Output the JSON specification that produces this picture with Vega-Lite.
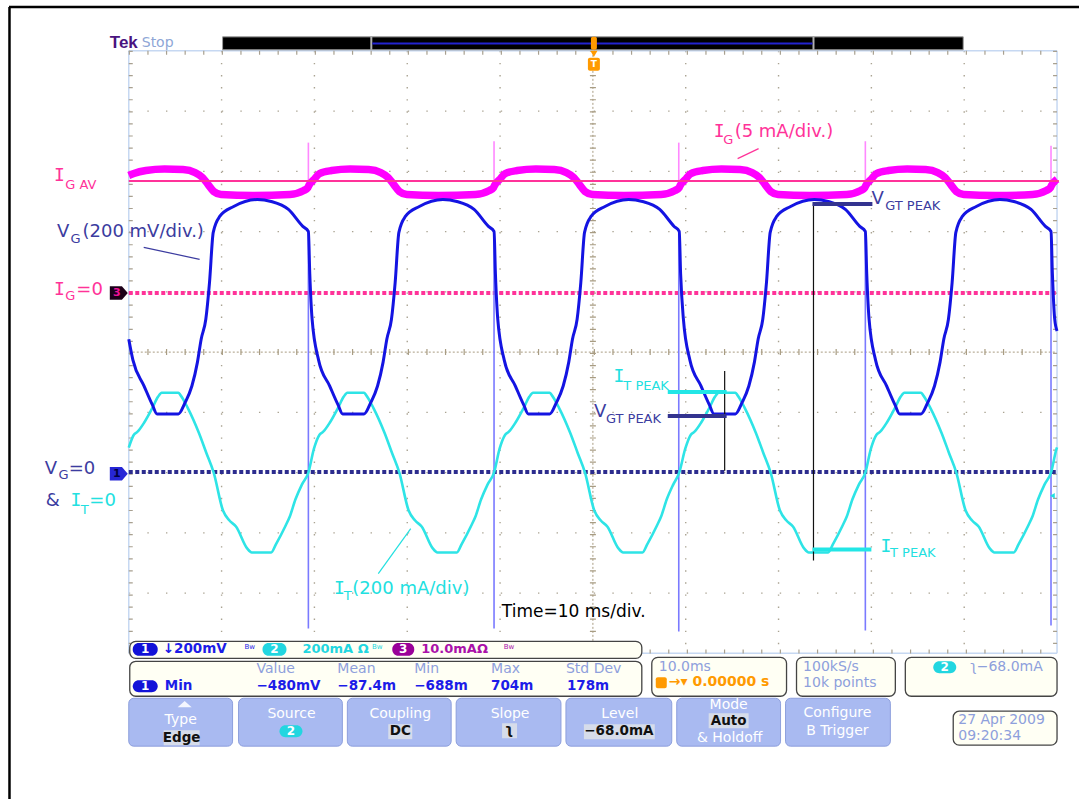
{
  "$schema": "https://vega.github.io/schema/vega-lite/v6.json",
  "width": 1081,
  "height": 801,
  "autosize": {"type": "fit", "contains": "padding"},
  "padding": 0,
  "background": "white",
  "config": {"view": {"stroke": null}, "text": {"font": "DejaVu Sans"}},
  "datasets": {
    "ig": [
      {"t":0,"d":2.93},{"t":0.55,"d":2.964},{"t":1.85,"d":3.013},{"t":3.85,"d":3.038},{"t":5.85,"d":3.03},{"t":7.15,"d":2.98},{"t":7.95,"d":2.897},{"t":8.55,"d":2.781},{"t":9.15,"d":2.666},{"t":9.95,"d":2.616},{"t":13.35,"d":2.599},{"t":17.35,"d":2.616},{"t":18.85,"d":2.682},{"t":19.3,"d":2.732},
      {"t":19.4,"d":2.765},{"t":19.95,"d":2.864},{"t":20.55,"d":2.964},{"t":21.85,"d":3.013},{"t":23.85,"d":3.038},{"t":25.85,"d":3.03},{"t":27.15,"d":2.98},{"t":27.95,"d":2.897},{"t":28.55,"d":2.781},{"t":29.15,"d":2.666},{"t":29.95,"d":2.616},{"t":33.35,"d":2.599},{"t":37.35,"d":2.616},{"t":38.85,"d":2.682},{"t":39.3,"d":2.732},
      {"t":39.4,"d":2.765},{"t":39.95,"d":2.864},{"t":40.55,"d":2.964},{"t":41.85,"d":3.013},{"t":43.85,"d":3.038},{"t":45.85,"d":3.03},{"t":47.15,"d":2.98},{"t":47.95,"d":2.897},{"t":48.55,"d":2.781},{"t":49.15,"d":2.666},{"t":49.95,"d":2.616},{"t":53.35,"d":2.599},{"t":57.35,"d":2.616},{"t":58.85,"d":2.682},{"t":59.3,"d":2.732},
      {"t":59.4,"d":2.765},{"t":59.95,"d":2.864},{"t":60.55,"d":2.964},{"t":61.85,"d":3.013},{"t":63.85,"d":3.038},{"t":65.85,"d":3.03},{"t":67.15,"d":2.98},{"t":67.95,"d":2.897},{"t":68.55,"d":2.781},{"t":69.15,"d":2.666},{"t":69.95,"d":2.616},{"t":73.35,"d":2.599},{"t":77.35,"d":2.616},{"t":78.85,"d":2.682},{"t":79.3,"d":2.732},
      {"t":79.4,"d":2.765},{"t":79.95,"d":2.864},{"t":80.55,"d":2.964},{"t":81.85,"d":3.013},{"t":83.85,"d":3.038},{"t":85.85,"d":3.03},{"t":87.15,"d":2.98},{"t":87.95,"d":2.897},{"t":88.55,"d":2.781},{"t":89.15,"d":2.666},{"t":89.95,"d":2.616},{"t":93.35,"d":2.599},{"t":97.35,"d":2.616},{"t":98.85,"d":2.682},{"t":99.3,"d":2.732},
      {"t":99.4,"d":2.765},{"t":99.95,"d":2.864},{"t":100,"d":2.87}
    ],
    "vg": [
      {"t":0,"d":0.215},{"t":0.45,"d":-0.132},{"t":1.65,"d":-0.563},{"t":2.55,"d":-0.877},{"t":3.05,"d":-1.026},{"t":5.35,"d":-1.026},{"t":6.05,"d":-0.844},{"t":6.8,"d":-0.563},{"t":7.4,"d":-0.166},{"t":7.8,"d":0.215},{"t":8.3,"d":0.546},{"t":8.7,"d":1.159},{"t":9.1,"d":1.987},{"t":9.8,"d":2.252},{"t":11.3,"d":2.417},{"t":13.85,"d":2.533},{"t":15.35,"d":2.5},{"t":17.2,"d":2.368},{"t":18.75,"d":2.086},{"t":19.35,"d":2.003},
      {"t":19.5,"d":1.3},{"t":19.75,"d":0.546},{"t":20.45,"d":-0.132},{"t":21.65,"d":-0.563},{"t":22.55,"d":-0.877},{"t":23.05,"d":-1.026},{"t":25.35,"d":-1.026},{"t":26.05,"d":-0.844},{"t":26.8,"d":-0.563},{"t":27.4,"d":-0.166},{"t":27.8,"d":0.215},{"t":28.3,"d":0.546},{"t":28.7,"d":1.159},{"t":29.1,"d":1.987},{"t":29.8,"d":2.252},{"t":31.3,"d":2.417},{"t":33.85,"d":2.533},{"t":35.35,"d":2.5},{"t":37.2,"d":2.368},{"t":38.75,"d":2.086},{"t":39.35,"d":2.003},
      {"t":39.5,"d":1.3},{"t":39.75,"d":0.546},{"t":40.45,"d":-0.132},{"t":41.65,"d":-0.563},{"t":42.55,"d":-0.877},{"t":43.05,"d":-1.026},{"t":45.35,"d":-1.026},{"t":46.05,"d":-0.844},{"t":46.8,"d":-0.563},{"t":47.4,"d":-0.166},{"t":47.8,"d":0.215},{"t":48.3,"d":0.546},{"t":48.7,"d":1.159},{"t":49.1,"d":1.987},{"t":49.8,"d":2.252},{"t":51.3,"d":2.417},{"t":53.85,"d":2.533},{"t":55.35,"d":2.5},{"t":57.2,"d":2.368},{"t":58.75,"d":2.086},{"t":59.3,"d":2.003},
      {"t":59.45,"d":1.3},{"t":59.75,"d":0.546},{"t":60.45,"d":-0.132},{"t":61.65,"d":-0.563},{"t":62.55,"d":-0.877},{"t":63.05,"d":-1.026},{"t":65.35,"d":-1.026},{"t":66.05,"d":-0.844},{"t":66.8,"d":-0.563},{"t":67.4,"d":-0.166},{"t":67.8,"d":0.215},{"t":68.3,"d":0.546},{"t":68.7,"d":1.159},{"t":69.1,"d":1.987},{"t":69.8,"d":2.252},{"t":71.3,"d":2.417},{"t":73.85,"d":2.533},{"t":75.35,"d":2.5},{"t":77.2,"d":2.368},{"t":78.75,"d":2.086},{"t":79.35,"d":2.003},
      {"t":79.5,"d":1.3},{"t":79.75,"d":0.546},{"t":80.45,"d":-0.132},{"t":81.65,"d":-0.563},{"t":82.55,"d":-0.877},{"t":83.05,"d":-1.026},{"t":85.35,"d":-1.026},{"t":86.05,"d":-0.844},{"t":86.8,"d":-0.563},{"t":87.4,"d":-0.166},{"t":87.8,"d":0.215},{"t":88.3,"d":0.546},{"t":88.7,"d":1.159},{"t":89.1,"d":1.987},{"t":89.8,"d":2.252},{"t":91.3,"d":2.417},{"t":93.85,"d":2.533},{"t":95.35,"d":2.5},{"t":97.2,"d":2.368},{"t":98.75,"d":2.086},{"t":99.35,"d":2.003},
      {"t":99.5,"d":1.3},{"t":99.75,"d":0.546},{"t":100,"d":0.35}
    ],
    "it": [
      {"t":0,"d":-1.585},{"t":0.55,"d":-1.371},{"t":0.95,"d":-1.321},{"t":1.65,"d":-1.172},{"t":2.55,"d":-0.924},{"t":3.15,"d":-0.742},{"t":3.55,"d":-0.675},{"t":5.35,"d":-0.675},{"t":5.55,"d":-0.709},{"t":6.35,"d":-0.924},{"t":7.55,"d":-1.338},{"t":8.35,"d":-1.669},{"t":9.15,"d":-2},{"t":10.15,"d":-2.629},{"t":10.85,"d":-2.795},{"t":11.55,"d":-2.894},{"t":12.75,"d":-3.258},{"t":13.25,"d":-3.325},{"t":15.35,"d":-3.325},{"t":15.85,"d":-3.192},{"t":16.85,"d":-2.894},{"t":17.35,"d":-2.728},{"t":17.95,"d":-2.447},{"t":18.65,"d":-2.199},{"t":19.35,"d":-2},
      {"t":19.95,"d":-1.603},{"t":20.55,"d":-1.371},{"t":20.95,"d":-1.321},{"t":21.65,"d":-1.172},{"t":22.55,"d":-0.924},{"t":23.15,"d":-0.742},{"t":23.55,"d":-0.675},{"t":25.35,"d":-0.675},{"t":25.55,"d":-0.709},{"t":26.35,"d":-0.924},{"t":27.55,"d":-1.338},{"t":28.35,"d":-1.669},{"t":29.15,"d":-2},{"t":30.15,"d":-2.629},{"t":30.85,"d":-2.795},{"t":31.55,"d":-2.894},{"t":32.75,"d":-3.258},{"t":33.25,"d":-3.325},{"t":35.35,"d":-3.325},{"t":35.85,"d":-3.192},{"t":36.85,"d":-2.894},{"t":37.35,"d":-2.728},{"t":37.95,"d":-2.447},{"t":38.65,"d":-2.199},{"t":39.35,"d":-2},
      {"t":39.95,"d":-1.603},{"t":40.55,"d":-1.371},{"t":40.95,"d":-1.321},{"t":41.65,"d":-1.172},{"t":42.55,"d":-0.924},{"t":43.15,"d":-0.742},{"t":43.55,"d":-0.675},{"t":45.35,"d":-0.675},{"t":45.55,"d":-0.709},{"t":46.35,"d":-0.924},{"t":47.55,"d":-1.338},{"t":48.35,"d":-1.669},{"t":49.15,"d":-2},{"t":50.15,"d":-2.629},{"t":50.85,"d":-2.795},{"t":51.55,"d":-2.894},{"t":52.75,"d":-3.258},{"t":53.25,"d":-3.325},{"t":55.35,"d":-3.325},{"t":55.85,"d":-3.192},{"t":56.85,"d":-2.894},{"t":57.35,"d":-2.728},{"t":57.95,"d":-2.447},{"t":58.65,"d":-2.199},{"t":59.3,"d":-2},
      {"t":59.95,"d":-1.603},{"t":60.55,"d":-1.371},{"t":60.95,"d":-1.321},{"t":61.65,"d":-1.172},{"t":62.55,"d":-0.924},{"t":63.15,"d":-0.742},{"t":63.55,"d":-0.675},{"t":65.35,"d":-0.675},{"t":65.55,"d":-0.709},{"t":66.35,"d":-0.924},{"t":67.55,"d":-1.338},{"t":68.35,"d":-1.669},{"t":69.15,"d":-2},{"t":70.15,"d":-2.629},{"t":70.85,"d":-2.795},{"t":71.55,"d":-2.894},{"t":72.75,"d":-3.258},{"t":73.25,"d":-3.325},{"t":75.35,"d":-3.325},{"t":75.85,"d":-3.192},{"t":76.85,"d":-2.894},{"t":77.35,"d":-2.728},{"t":77.95,"d":-2.447},{"t":78.65,"d":-2.199},{"t":79.35,"d":-2},
      {"t":79.95,"d":-1.603},{"t":80.55,"d":-1.371},{"t":80.95,"d":-1.321},{"t":81.65,"d":-1.172},{"t":82.55,"d":-0.924},{"t":83.15,"d":-0.742},{"t":83.55,"d":-0.675},{"t":85.35,"d":-0.675},{"t":85.55,"d":-0.709},{"t":86.35,"d":-0.924},{"t":87.55,"d":-1.338},{"t":88.35,"d":-1.669},{"t":89.15,"d":-2},{"t":90.15,"d":-2.629},{"t":90.85,"d":-2.795},{"t":91.55,"d":-2.894},{"t":92.75,"d":-3.258},{"t":93.25,"d":-3.325},{"t":95.35,"d":-3.325},{"t":95.85,"d":-3.192},{"t":96.85,"d":-2.894},{"t":97.35,"d":-2.728},{"t":97.95,"d":-2.447},{"t":98.65,"d":-2.199},{"t":99.35,"d":-2},
      {"t":99.95,"d":-1.603},{"t":100,"d":-1.58}
    ],
    "rules": [
      {"k":"gh","t":0,"t2":100,"d":4,"d2":4},{"k":"gh","t":0,"t2":100,"d":3,"d2":3},{"k":"gh","t":0,"t2":100,"d":2,"d2":2},{"k":"gh","t":0,"t2":100,"d":1,"d2":1},
      {"k":"gh","t":0,"t2":100,"d":-1,"d2":-1},{"k":"gh","t":0,"t2":100,"d":-2,"d2":-2},{"k":"gh","t":0,"t2":100,"d":-3,"d2":-3},{"k":"gh","t":0,"t2":100,"d":-4,"d2":-4},
      {"k":"gv","t":10,"t2":10,"d":5,"d2":-5},{"k":"gv","t":20,"t2":20,"d":5,"d2":-5},{"k":"gv","t":30,"t2":30,"d":5,"d2":-5},{"k":"gv","t":40,"t2":40,"d":5,"d2":-5},
      {"k":"gv","t":60,"t2":60,"d":5,"d2":-5},{"k":"gv","t":70,"t2":70,"d":5,"d2":-5},{"k":"gv","t":80,"t2":80,"d":5,"d2":-5},{"k":"gv","t":90,"t2":90,"d":5,"d2":-5},
      {"k":"ch","t":0,"t2":100,"d":0,"d2":0},
      {"k":"cv","t":50,"t2":50,"d":5,"d2":-5},
      {"k":"edge","t":0,"t2":100,"d":5,"d2":5},{"k":"edge","t":0,"t2":100,"d":-5,"d2":-5},{"k":"edge","t":0,"t2":0,"d":5,"d2":-5},{"k":"edge","t":100,"t2":100,"d":5,"d2":-5},
      {"k":"eth","t":0,"t2":100,"d":4.967,"d2":4.967},{"k":"eth","t":0,"t2":100,"d":-4.967,"d2":-4.967},
      {"k":"etv","t":0.215,"t2":0.215,"d":5,"d2":-5},{"k":"etv","t":99.785,"t2":99.785,"d":5,"d2":-5},
      {"k":"frame","t":-12.849,"t2":-12.849,"d":5.728,"d2":-7.417},{"k":"frame","t":-12.903,"t2":102.366,"d":5.728,"d2":5.728},
      {"k":"igav","t":0,"t2":100.2,"d":2.839,"d2":2.839},
      {"k":"ig0","t":0,"t2":100,"d":0.98,"d2":0.98},
      {"k":"vg0","t":0,"t2":100,"d":-1.99,"d2":-1.99},
      {"k":"svg","t":19.35,"t2":19.35,"d":2.0,"d2":-4.586},{"k":"svg","t":39.35,"t2":39.35,"d":2.0,"d2":-4.586},{"k":"svg","t":59.25,"t2":59.25,"d":2.0,"d2":-4.636},{"k":"svg","t":79.35,"t2":79.35,"d":2.0,"d2":-4.62},{"k":"svg","t":99.35,"t2":99.35,"d":2.0,"d2":-4.536},
      {"k":"sig","t":19.35,"t2":19.35,"d":2.8,"d2":3.477},{"k":"sig","t":39.35,"t2":39.35,"d":2.8,"d2":3.5},{"k":"sig","t":59.25,"t2":59.25,"d":2.8,"d2":3.477},{"k":"sig","t":79.35,"t2":79.35,"d":2.8,"d2":3.5},{"k":"sig","t":99.35,"t2":99.35,"d":2.8,"d2":3.427},
      {"k":"pvg","t":1.613,"t2":7.634,"d":1.738,"d2":1.54},
      {"k":"pig","t":65.591,"t2":67.849,"d":3.212,"d2":3.377},
      {"k":"pit","t":26.882,"t2":30.376,"d":-3.675,"d2":-2.93},
      {"k":"bvg","t":73.656,"t2":80.108,"d":2.459,"d2":2.459},{"k":"bvg","t":58.065,"t2":64.409,"d":-1.06,"d2":-1.06},
      {"k":"bit","t":58.065,"t2":64.409,"d":-0.662,"d2":-0.662},{"k":"bit","t":73.656,"t2":80.0,"d":-3.278,"d2":-3.278},
      {"k":"cur","t":73.763,"t2":73.763,"d":2.467,"d2":-3.46},{"k":"cur","t":64.194,"t2":64.194,"d":-0.315,"d2":-1.97},
      {"k":"bardiv","t":26.129,"t2":26.129,"d":5.232,"d2":5.017},{"k":"bardiv","t":73.763,"t2":73.763,"d":5.232,"d2":5.017},
      {"k":"barblue","t":26.237,"t2":73.656,"d":5.124,"d2":5.124}
    ],
    "rects": [
      {"k":"bar","t":10.108,"t2":89.892,"d":5.232,"d2":5.017},
      {"k":"orange","t":49.785,"t2":50.43,"d":5.232,"d2":5.017},
      {"k":"orange","t":49.462,"t2":50.753,"d":4.884,"d2":4.669},
      {"k":"box","t":0.108,"t2":55.269,"d":-4.801,"d2":-5.083},
      {"k":"box","t":0.108,"t2":55.269,"d":-5.132,"d2":-5.712},
      {"k":"box","t":56.344,"t2":70.86,"d":-5.066,"d2":-5.712},
      {"k":"box","t":71.935,"t2":82.581,"d":-5.066,"d2":-5.712},
      {"k":"box","t":83.656,"t2":100,"d":-5.066,"d2":-5.712},
      {"k":"box","t":88.817,"t2":100,"d":-5.96,"d2":-6.523},
      {"k":"btn","t":0,"t2":11.183,"d":-5.745,"d2":-6.54},
      {"k":"btn","t":11.828,"t2":23.011,"d":-5.745,"d2":-6.54},
      {"k":"btn","t":23.548,"t2":34.731,"d":-5.745,"d2":-6.54},
      {"k":"btn","t":35.269,"t2":46.559,"d":-5.745,"d2":-6.54},
      {"k":"btn","t":47.097,"t2":58.495,"d":-5.745,"d2":-6.54},
      {"k":"btn","t":59.032,"t2":70.215,"d":-5.745,"d2":-6.54},
      {"k":"btn","t":70.753,"t2":82.043,"d":-5.745,"d2":-6.54},
      {"k":"hl","t":3.763,"t2":7.634,"d":-6.275,"d2":-6.523},
      {"k":"hl","t":27.957,"t2":30.538,"d":-6.175,"d2":-6.424},
      {"k":"hl","t":40.215,"t2":41.828,"d":-6.159,"d2":-6.407},
      {"k":"hl","t":49.032,"t2":56.667,"d":-6.175,"d2":-6.424},
      {"k":"hl","t":62.473,"t2":66.774,"d":-5.993,"d2":-6.242},
      {"k":"b1","t":0.43,"t2":3.118,"d":-4.826,"d2":-5.041},
      {"k":"b1","t":0.43,"t2":3.118,"d":-5.447,"d2":-5.646},
      {"k":"b2","t":14.409,"t2":16.989,"d":-4.826,"d2":-5.041},
      {"k":"b3","t":28.387,"t2":30.753,"d":-4.826,"d2":-5.041},
      {"k":"b2","t":16.237,"t2":18.71,"d":-6.192,"d2":-6.391},
      {"k":"b2","t":86.667,"t2":89.14,"d":-5.132,"d2":-5.331},
      {"k":"orange","t":56.774,"t2":57.957,"d":-5.397,"d2":-5.579}
    ],
    "pts": [
      {"k":"tag3","t":-1.075,"d":0.98},
      {"k":"tag1","t":-1.075,"d":-2.02},
      {"k":"tri","t":50.108,"d":4.95},
      {"k":"typetri","t":6.022,"d":-5.844},
      {"k":"arr","t":99.5,"d":-2.384}
    ],
    "txt": [
      {"k":"pinkI","t":-7.473,"d":2.922,"txt":"I"},
      {"k":"pinkS","t":-6.839,"d":2.781,"txt":"G AV"},
      {"k":"pinkI","t":-7.473,"d":1.035,"txt":"I"},
      {"k":"pinkS","t":-6.839,"d":0.927,"txt":"G"},
      {"k":"pinkM","t":-5.645,"d":1.035,"txt":"=0"},
      {"k":"pinkI","t":63.613,"d":3.651,"txt":"I"},
      {"k":"pinkS","t":64.043,"d":3.526,"txt":"G"},
      {"k":"pinkM","t":65.269,"d":3.651,"txt":"(5 mA/div.)"},
      {"k":"navyM","t":-7.742,"d":1.987,"txt":"V"},
      {"k":"navyS","t":-6.28,"d":1.871,"txt":"G"},
      {"k":"navyM","t":-4.989,"d":1.987,"txt":"(200 mV/div.)"},
      {"k":"navyM","t":-9.054,"d":-1.937,"txt":"V"},
      {"k":"navyS","t":-7.581,"d":-2.036,"txt":"G"},
      {"k":"navyM","t":-6.462,"d":-1.937,"txt":"=0"},
      {"k":"navyM","t":-8.946,"d":-2.475,"txt":"&"},
      {"k":"navyM","t":80.0,"d":2.533,"txt":"V"},
      {"k":"navyS","t":81.484,"d":2.417,"txt":"GT PEAK"},
      {"k":"navyM","t":50.108,"d":-0.993,"txt":"V"},
      {"k":"navyS","t":51.398,"d":-1.109,"txt":"GT PEAK"},
      {"k":"cyanI","t":-5.699,"d":-2.475,"txt":"I"},
      {"k":"cyanS","t":-5.161,"d":-2.616,"txt":"T"},
      {"k":"cyanM","t":-4.247,"d":-2.475,"txt":"=0"},
      {"k":"cyanI","t":52.796,"d":-0.414,"txt":"I"},
      {"k":"cyanS","t":53.28,"d":-0.563,"txt":"T PEAK"},
      {"k":"cyanI","t":81.559,"d":-3.228,"txt":"I"},
      {"k":"cyanS","t":82.011,"d":-3.328,"txt":"T PEAK"},
      {"k":"cyanI","t":22.688,"d":-3.924,"txt":"I"},
      {"k":"cyanS","t":23.172,"d":-4.048,"txt":"T"},
      {"k":"cyanM","t":24.086,"d":-3.924,"txt":"(200 mA/div)"},
      {"k":"time","t":40.194,"d":-4.321,"txt":"Time=10 ms/div."},
      {"k":"tag3","t":-1.29,"d":0.98,"txt":"3"},
      {"k":"tag1","t":-1.29,"d":-2.02,"txt":"1"},
      {"k":"tek","t":-2.043,"d":5.132,"txt":"Tek"},
      {"k":"stop","t":1.398,"d":5.132,"txt":"Stop"},
      {"k":"trig","t":50.108,"d":4.776,"txt":"T"},
      {"k":"badge","t":1.774,"d":-4.934,"txt":"1"},
      {"k":"blueB","t":3.656,"d":-4.934,"txt":"↓200mV"},
      {"k":"bwB","t":12.473,"d":-4.901,"txt":"Bw"},
      {"k":"badge","t":15.699,"d":-4.934,"txt":"2"},
      {"k":"cyanB","t":18.71,"d":-4.934,"txt":"200mA Ω"},
      {"k":"bwC","t":26.2,"d":-4.901,"txt":"Bw"},
      {"k":"badge","t":29.57,"d":-4.934,"txt":"3"},
      {"k":"purpleB","t":31.505,"d":-4.934,"txt":"10.0mAΩ"},
      {"k":"bwP","t":40.4,"d":-4.901,"txt":"Bw"},
      {"k":"hdr","t":13.763,"d":-5.265,"txt":"Value"},
      {"k":"hdr","t":22.473,"d":-5.265,"txt":"Mean"},
      {"k":"hdr","t":30.753,"d":-5.265,"txt":"Min"},
      {"k":"hdr","t":39.032,"d":-5.265,"txt":"Max"},
      {"k":"hdr","t":47.097,"d":-5.265,"txt":"Std Dev"},
      {"k":"badge","t":1.774,"d":-5.546,"txt":"1"},
      {"k":"blueB","t":3.871,"d":-5.546,"txt":"Min"},
      {"k":"blueB","t":13.763,"d":-5.546,"txt":"−480mV"},
      {"k":"blueB","t":22.473,"d":-5.546,"txt":"−87.4m"},
      {"k":"blueB","t":30.753,"d":-5.546,"txt":"−688m"},
      {"k":"blueB","t":39.032,"d":-5.546,"txt":"704m"},
      {"k":"blueB","t":47.204,"d":-5.546,"txt":"178m"},
      {"k":"hdr","t":57.097,"d":-5.232,"txt":"10.0ms"},
      {"k":"orangeB","t":58.172,"d":-5.48,"txt":"→▾ 0.00000 s"},
      {"k":"hdr","t":72.645,"d":-5.232,"txt":"100kS/s"},
      {"k":"hdr","t":72.645,"d":-5.497,"txt":"10k points"},
      {"k":"badge","t":87.903,"d":-5.232,"txt":"2"},
      {"k":"hdr","t":90.645,"d":-5.232,"txt":"ʅ−68.0mA"},
      {"k":"hdr","t":89.355,"d":-6.109,"txt":"27 Apr 2009"},
      {"k":"hdr","t":89.355,"d":-6.374,"txt":"09:20:34"},
      {"k":"btnW","t":5.591,"d":-6.109,"txt":"Type"},
      {"k":"btnK","t":5.699,"d":-6.407,"txt":"Edge"},
      {"k":"btnW","t":17.527,"d":-6.01,"txt":"Source"},
      {"k":"badge","t":17.473,"d":-6.291,"txt":"2"},
      {"k":"btnW","t":29.247,"d":-6.01,"txt":"Coupling"},
      {"k":"btnK","t":29.247,"d":-6.291,"txt":"DC"},
      {"k":"btnW","t":41.075,"d":-6.01,"txt":"Slope"},
      {"k":"btnK","t":40.968,"d":-6.275,"txt":"ʅ"},
      {"k":"btnW","t":52.903,"d":-6.01,"txt":"Level"},
      {"k":"btnK","t":52.796,"d":-6.291,"txt":"−68.0mA"},
      {"k":"btnW","t":64.624,"d":-5.861,"txt":"Mode"},
      {"k":"btnK","t":64.624,"d":-6.118,"txt":"Auto"},
      {"k":"btnW","t":64.731,"d":-6.407,"txt":"& Holdoff"},
      {"k":"btnW","t":76.344,"d":-5.993,"txt":"Configure"},
      {"k":"btnW","t":76.344,"d":-6.291,"txt":"B Trigger"}
    ]
  },
  "encoding": {
    "x": {"field": "t", "type": "quantitative", "scale": {"domain": [-13.871, 102.366], "nice": false, "zero": false}, "axis": null},
    "y": {"field": "d", "type": "quantitative", "scale": {"domain": [-7.417, 5.844], "nice": false, "zero": false}, "axis": null}
  },
  "layer": [
    {"data": {"name": "rules"}, "transform": [{"filter": "datum.k == 'gh'"}], "mark": {"type": "rule", "color": "#aaa392", "strokeWidth": 1.4, "strokeDash": [1.4, 17.2]}, "encoding": {"x2": {"field": "t2"}, "y2": {"field": "d2"}}},
    {"data": {"name": "rules"}, "transform": [{"filter": "datum.k == 'gv'"}], "mark": {"type": "rule", "color": "#aaa392", "strokeWidth": 1.4, "strokeDash": [1.4, 10.68]}, "encoding": {"x2": {"field": "t2"}, "y2": {"field": "d2"}}},
    {"data": {"name": "rules"}, "transform": [{"filter": "datum.k == 'ch' || datum.k == 'cv'"}], "mark": {"type": "rule", "color": "#a89c82", "strokeWidth": 1, "strokeDash": [2, 2]}, "encoding": {"x2": {"field": "t2"}, "y2": {"field": "d2"}}},
    {"data": {"name": "rules"}, "transform": [{"filter": "datum.k == 'ch'"}], "mark": {"type": "rule", "color": "#a89c82", "strokeWidth": 6, "strokeDash": [1.2, 17.4]}, "encoding": {"x2": {"field": "t2"}, "y2": {"field": "d2"}}},
    {"data": {"name": "rules"}, "transform": [{"filter": "datum.k == 'cv'"}], "mark": {"type": "rule", "color": "#a89c82", "strokeWidth": 6, "strokeDash": [1.2, 10.88]}, "encoding": {"x2": {"field": "t2"}, "y2": {"field": "d2"}}},
    {"data": {"name": "rules"}, "transform": [{"filter": "datum.k == 'edge'"}], "mark": {"type": "rule", "color": "#c6d8f2", "strokeWidth": 1.5}, "encoding": {"x2": {"field": "t2"}, "y2": {"field": "d2"}}},
    {"data": {"name": "rules"}, "transform": [{"filter": "datum.k == 'eth'"}], "mark": {"type": "rule", "color": "#a8a090", "strokeWidth": 4, "strokeDash": [1.2, 17.4]}, "encoding": {"x2": {"field": "t2"}, "y2": {"field": "d2"}}},
    {"data": {"name": "rules"}, "transform": [{"filter": "datum.k == 'etv'"}], "mark": {"type": "rule", "color": "#a8a090", "strokeWidth": 4, "strokeDash": [1.2, 10.88]}, "encoding": {"x2": {"field": "t2"}, "y2": {"field": "d2"}}},
    {"data": {"name": "rules"}, "transform": [{"filter": "datum.k == 'frame'"}], "mark": {"type": "rule", "color": "#000000", "strokeWidth": 2.5}, "encoding": {"x2": {"field": "t2"}, "y2": {"field": "d2"}}},
    {"data": {"name": "rules"}, "transform": [{"filter": "datum.k == 'ig0'"}], "mark": {"type": "rule", "color": "#ff3399", "strokeWidth": 4, "strokeDash": [4, 2.5]}, "encoding": {"x2": {"field": "t2"}, "y2": {"field": "d2"}}},
    {"data": {"name": "rules"}, "transform": [{"filter": "datum.k == 'vg0'"}], "mark": {"type": "rule", "color": "#2c2c8e", "strokeWidth": 4, "strokeDash": [4, 2.5]}, "encoding": {"x2": {"field": "t2"}, "y2": {"field": "d2"}}},
    {"data": {"name": "rules"}, "transform": [{"filter": "datum.k == 'svg'"}], "mark": {"type": "rule", "color": "#7a7aff", "strokeWidth": 1.6}, "encoding": {"x2": {"field": "t2"}, "y2": {"field": "d2"}}},
    {"data": {"name": "rules"}, "transform": [{"filter": "datum.k == 'sig'"}], "mark": {"type": "rule", "color": "#ff88ff", "strokeWidth": 1.6}, "encoding": {"x2": {"field": "t2"}, "y2": {"field": "d2"}}},
    {"data": {"name": "ig"}, "mark": {"type": "line", "color": "#ff00ff", "strokeWidth": 7.5, "strokeCap": "butt", "interpolate": "monotone"}, "encoding": {}},
    {"data": {"name": "it"}, "mark": {"type": "line", "color": "#2ee4e6", "strokeWidth": 2.6, "interpolate": "monotone"}, "encoding": {}},
    {"data": {"name": "vg"}, "mark": {"type": "line", "color": "#1414e2", "strokeWidth": 3, "interpolate": "monotone"}, "encoding": {}},
    {"data": {"name": "rules"}, "transform": [{"filter": "datum.k == 'igav'"}], "mark": {"type": "rule", "color": "#ff3399", "strokeWidth": 2}, "encoding": {"x2": {"field": "t2"}, "y2": {"field": "d2"}}},
    {"data": {"name": "rules"}, "transform": [{"filter": "datum.k == 'cur'"}], "mark": {"type": "rule", "color": "#111111", "strokeWidth": 1.2}, "encoding": {"x2": {"field": "t2"}, "y2": {"field": "d2"}}},
    {"data": {"name": "rules"}, "transform": [{"filter": "datum.k == 'bvg'"}], "mark": {"type": "rule", "color": "#33338f", "strokeWidth": 4}, "encoding": {"x2": {"field": "t2"}, "y2": {"field": "d2"}}},
    {"data": {"name": "rules"}, "transform": [{"filter": "datum.k == 'bit'"}], "mark": {"type": "rule", "color": "#22e6e6", "strokeWidth": 4}, "encoding": {"x2": {"field": "t2"}, "y2": {"field": "d2"}}},
    {"data": {"name": "rules"}, "transform": [{"filter": "datum.k == 'pvg'"}], "mark": {"type": "rule", "color": "#3c3ca0", "strokeWidth": 1.2}, "encoding": {"x2": {"field": "t2"}, "y2": {"field": "d2"}}},
    {"data": {"name": "rules"}, "transform": [{"filter": "datum.k == 'pig'"}], "mark": {"type": "rule", "color": "#ff3399", "strokeWidth": 1.2}, "encoding": {"x2": {"field": "t2"}, "y2": {"field": "d2"}}},
    {"data": {"name": "rules"}, "transform": [{"filter": "datum.k == 'pit'"}], "mark": {"type": "rule", "color": "#22e0e0", "strokeWidth": 1.2}, "encoding": {"x2": {"field": "t2"}, "y2": {"field": "d2"}}},
    {"data": {"name": "rects"}, "transform": [{"filter": "datum.k == 'bar'"}], "mark": {"type": "rect", "color": "#000000", "stroke": "#9a9a9a", "strokeWidth": 1}, "encoding": {"x2": {"field": "t2"}, "y2": {"field": "d2"}}},
    {"data": {"name": "rules"}, "transform": [{"filter": "datum.k == 'bardiv'"}], "mark": {"type": "rule", "color": "#b0b0b0", "strokeWidth": 2}, "encoding": {"x2": {"field": "t2"}, "y2": {"field": "d2"}}},
    {"data": {"name": "rules"}, "transform": [{"filter": "datum.k == 'barblue'"}], "mark": {"type": "rule", "color": "#2323d0", "strokeWidth": 2}, "encoding": {"x2": {"field": "t2"}, "y2": {"field": "d2"}}},
    {"data": {"name": "rects"}, "transform": [{"filter": "datum.k == 'box'"}], "mark": {"type": "rect", "fill": "#fffff4", "stroke": "#444444", "strokeWidth": 1.3, "cornerRadius": 6}, "encoding": {"x2": {"field": "t2"}, "y2": {"field": "d2"}}},
    {"data": {"name": "rects"}, "transform": [{"filter": "datum.k == 'btn'"}], "mark": {"type": "rect", "fill": "#a9baf1", "stroke": "#8d9fdc", "strokeWidth": 1, "cornerRadius": 5}, "encoding": {"x2": {"field": "t2"}, "y2": {"field": "d2"}}},
    {"data": {"name": "rects"}, "transform": [{"filter": "datum.k == 'hl'"}], "mark": {"type": "rect", "fill": "#d6dcea"}, "encoding": {"x2": {"field": "t2"}, "y2": {"field": "d2"}}},
    {"data": {"name": "rects"}, "transform": [{"filter": "datum.k == 'b1'"}], "mark": {"type": "rect", "fill": "#1212d8", "cornerRadius": 6}, "encoding": {"x2": {"field": "t2"}, "y2": {"field": "d2"}}},
    {"data": {"name": "rects"}, "transform": [{"filter": "datum.k == 'b2'"}], "mark": {"type": "rect", "fill": "#22d6e0", "cornerRadius": 6}, "encoding": {"x2": {"field": "t2"}, "y2": {"field": "d2"}}},
    {"data": {"name": "rects"}, "transform": [{"filter": "datum.k == 'b3'"}], "mark": {"type": "rect", "fill": "#990099", "cornerRadius": 6}, "encoding": {"x2": {"field": "t2"}, "y2": {"field": "d2"}}},
    {"data": {"name": "rects"}, "transform": [{"filter": "datum.k == 'orange'"}], "mark": {"type": "rect", "fill": "#ff9a00", "cornerRadius": 2}, "encoding": {"x2": {"field": "t2"}, "y2": {"field": "d2"}}},
    {"data": {"name": "pts"}, "transform": [{"filter": "datum.k == 'tag3'"}], "mark": {"type": "point", "shape": "M -1 -0.75 L 0.35 -0.75 L 1 0 L 0.35 0.75 L -1 0.75 Z", "filled": true, "size": 324, "color": "#1c0018", "opacity": 1}},
    {"data": {"name": "pts"}, "transform": [{"filter": "datum.k == 'tag1'"}], "mark": {"type": "point", "shape": "M -1 -0.75 L 0.35 -0.75 L 1 0 L 0.35 0.75 L -1 0.75 Z", "filled": true, "size": 324, "color": "#2626d6", "opacity": 1}},
    {"data": {"name": "pts"}, "transform": [{"filter": "datum.k == 'tri'"}], "mark": {"type": "point", "shape": "triangle-down", "filled": true, "size": 50, "color": "#ff9a00", "opacity": 1}},
    {"data": {"name": "pts"}, "transform": [{"filter": "datum.k == 'typetri'"}], "mark": {"type": "point", "shape": "M -1 0.45 L 1 0.45 L 0 -0.45 Z", "filled": true, "size": 196, "color": "#f4f6ff", "opacity": 1}},
    {"data": {"name": "pts"}, "transform": [{"filter": "datum.k == 'arr'"}], "mark": {"type": "point", "shape": "triangle-left", "filled": true, "size": 30, "color": "#22e0e0", "opacity": 1}},
    {"data": {"name": "txt"}, "transform": [{"filter": "datum.k == 'pinkI'"}], "mark": {"type": "text", "align": "center", "baseline": "middle", "fontSize": 18, "font": "DejaVu Sans Mono", "color": "#ff3399"}, "encoding": {"text": {"field": "txt"}}},
    {"data": {"name": "txt"}, "transform": [{"filter": "datum.k == 'cyanI'"}], "mark": {"type": "text", "align": "center", "baseline": "middle", "fontSize": 18, "font": "DejaVu Sans Mono", "color": "#22e0e0"}, "encoding": {"text": {"field": "txt"}}},
    {"data": {"name": "txt"}, "transform": [{"filter": "datum.k == 'pinkM'"}], "mark": {"type": "text", "align": "left", "baseline": "middle", "fontSize": 18, "color": "#ff3399"}, "encoding": {"text": {"field": "txt"}}},
    {"data": {"name": "txt"}, "transform": [{"filter": "datum.k == 'pinkS'"}], "mark": {"type": "text", "align": "left", "baseline": "middle", "fontSize": 13, "color": "#ff3399"}, "encoding": {"text": {"field": "txt"}}},
    {"data": {"name": "txt"}, "transform": [{"filter": "datum.k == 'navyM'"}], "mark": {"type": "text", "align": "left", "baseline": "middle", "fontSize": 18, "color": "#3c3ca0"}, "encoding": {"text": {"field": "txt"}}},
    {"data": {"name": "txt"}, "transform": [{"filter": "datum.k == 'navyS'"}], "mark": {"type": "text", "align": "left", "baseline": "middle", "fontSize": 13, "color": "#3c3ca0"}, "encoding": {"text": {"field": "txt"}}},
    {"data": {"name": "txt"}, "transform": [{"filter": "datum.k == 'cyanM'"}], "mark": {"type": "text", "align": "left", "baseline": "middle", "fontSize": 18, "color": "#22e0e0"}, "encoding": {"text": {"field": "txt"}}},
    {"data": {"name": "txt"}, "transform": [{"filter": "datum.k == 'cyanS'"}], "mark": {"type": "text", "align": "left", "baseline": "middle", "fontSize": 13, "color": "#22e0e0"}, "encoding": {"text": {"field": "txt"}}},
    {"data": {"name": "txt"}, "transform": [{"filter": "datum.k == 'time'"}], "mark": {"type": "text", "align": "left", "baseline": "middle", "fontSize": 17, "color": "#000000"}, "encoding": {"text": {"field": "txt"}}},
    {"data": {"name": "txt"}, "transform": [{"filter": "datum.k == 'tag3'"}], "mark": {"type": "text", "align": "center", "baseline": "middle", "fontSize": 11, "fontWeight": "bold", "color": "#ee1199"}, "encoding": {"text": {"field": "txt"}}},
    {"data": {"name": "txt"}, "transform": [{"filter": "datum.k == 'tag1'"}], "mark": {"type": "text", "align": "center", "baseline": "middle", "fontSize": 11, "fontWeight": "bold", "color": "#000044"}, "encoding": {"text": {"field": "txt"}}},
    {"data": {"name": "txt"}, "transform": [{"filter": "datum.k == 'tek'"}], "mark": {"type": "text", "align": "left", "baseline": "middle", "fontSize": 17, "fontWeight": "bold", "font": "Liberation Sans", "color": "#4a1480"}, "encoding": {"text": {"field": "txt"}}},
    {"data": {"name": "txt"}, "transform": [{"filter": "datum.k == 'stop'"}], "mark": {"type": "text", "align": "left", "baseline": "middle", "fontSize": 14, "color": "#8ea6d6"}, "encoding": {"text": {"field": "txt"}}},
    {"data": {"name": "txt"}, "transform": [{"filter": "datum.k == 'trig'"}], "mark": {"type": "text", "align": "center", "baseline": "middle", "fontSize": 9, "fontWeight": "bold", "color": "#ffffff"}, "encoding": {"text": {"field": "txt"}}},
    {"data": {"name": "txt"}, "transform": [{"filter": "datum.k == 'badge'"}], "mark": {"type": "text", "align": "center", "baseline": "middle", "fontSize": 12, "fontWeight": "bold", "color": "#ffffff"}, "encoding": {"text": {"field": "txt"}}},
    {"data": {"name": "txt"}, "transform": [{"filter": "datum.k == 'blueB'"}], "mark": {"type": "text", "align": "left", "baseline": "middle", "fontSize": 13.5, "fontWeight": "bold", "color": "#1c1ce8"}, "encoding": {"text": {"field": "txt"}}},
    {"data": {"name": "txt"}, "transform": [{"filter": "datum.k == 'cyanB'"}], "mark": {"type": "text", "align": "left", "baseline": "middle", "fontSize": 13, "fontWeight": "bold", "color": "#22d6e0"}, "encoding": {"text": {"field": "txt"}}},
    {"data": {"name": "txt"}, "transform": [{"filter": "datum.k == 'purpleB'"}], "mark": {"type": "text", "align": "left", "baseline": "middle", "fontSize": 13, "fontWeight": "bold", "color": "#aa11aa"}, "encoding": {"text": {"field": "txt"}}},
    {"data": {"name": "txt"}, "transform": [{"filter": "datum.k == 'bwB'"}], "mark": {"type": "text", "align": "left", "baseline": "middle", "fontSize": 7, "color": "#1c1ce8"}, "encoding": {"text": {"field": "txt"}}},
    {"data": {"name": "txt"}, "transform": [{"filter": "datum.k == 'bwC'"}], "mark": {"type": "text", "align": "left", "baseline": "middle", "fontSize": 7, "color": "#22d6e0"}, "encoding": {"text": {"field": "txt"}}},
    {"data": {"name": "txt"}, "transform": [{"filter": "datum.k == 'bwP'"}], "mark": {"type": "text", "align": "left", "baseline": "middle", "fontSize": 7, "color": "#aa11aa"}, "encoding": {"text": {"field": "txt"}}},
    {"data": {"name": "txt"}, "transform": [{"filter": "datum.k == 'hdr'"}], "mark": {"type": "text", "align": "left", "baseline": "middle", "fontSize": 14, "color": "#8ea0dc"}, "encoding": {"text": {"field": "txt"}}},
    {"data": {"name": "txt"}, "transform": [{"filter": "datum.k == 'orangeB'"}], "mark": {"type": "text", "align": "left", "baseline": "middle", "fontSize": 14, "fontWeight": "bold", "color": "#ff9a00"}, "encoding": {"text": {"field": "txt"}}},
    {"data": {"name": "txt"}, "transform": [{"filter": "datum.k == 'btnW'"}], "mark": {"type": "text", "align": "center", "baseline": "middle", "fontSize": 14, "color": "#ffffff"}, "encoding": {"text": {"field": "txt"}}},
    {"data": {"name": "txt"}, "transform": [{"filter": "datum.k == 'btnK'"}], "mark": {"type": "text", "align": "center", "baseline": "middle", "fontSize": 13.5, "fontWeight": "bold", "color": "#111111"}, "encoding": {"text": {"field": "txt"}}}
  ]
}
